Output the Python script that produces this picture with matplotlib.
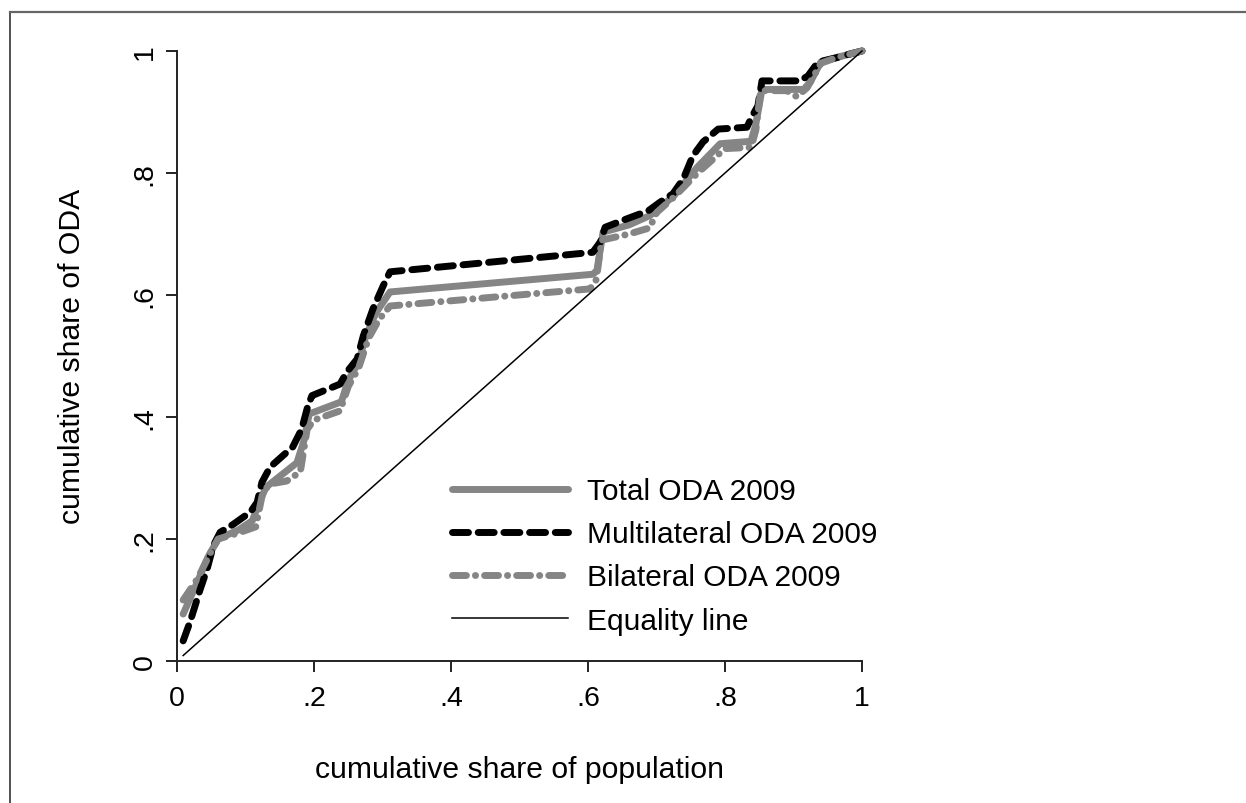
import matplotlib
matplotlib.use("Agg")
import matplotlib.pyplot as plt
from matplotlib.lines import Line2D

plt.rcParams['font.family'] = ['Liberation Sans', 'DejaVu Sans']

# ---- data ----
multi_x = [0.009, 0.019, 0.034, 0.044, 0.053, 0.063, 0.082, 0.107, 0.117, 0.124, 0.136,
           0.169, 0.182, 0.191, 0.197, 0.238, 0.248, 0.263, 0.272, 0.286, 0.301, 0.311,
           0.607, 0.618, 0.625, 0.657, 0.688, 0.705, 0.724, 0.739, 0.753, 0.768, 0.790,
           0.832, 0.839, 0.848, 0.854, 0.909, 0.921, 0.936, 0.963, 0.982, 1.000]
multi_y = [0.033, 0.064, 0.118, 0.151, 0.189, 0.211, 0.224, 0.244, 0.260, 0.293, 0.318,
           0.351, 0.380, 0.418, 0.435, 0.454, 0.474, 0.495, 0.533, 0.577, 0.615, 0.638,
           0.670, 0.687, 0.711, 0.725, 0.738, 0.752, 0.766, 0.790, 0.828, 0.851, 0.872,
           0.875, 0.892, 0.910, 0.951, 0.951, 0.959, 0.982, 0.989, 0.995, 1.000]

total_x = [0.009, 0.030, 0.045, 0.060, 0.090, 0.110, 0.120, 0.130, 0.175, 0.185, 0.193,
           0.240, 0.250, 0.265, 0.275, 0.290, 0.311, 0.607, 0.613, 0.622, 0.660, 0.690,
           0.725, 0.760, 0.793, 0.838, 0.845, 0.854, 0.915, 0.925, 0.940, 0.965, 1.000]
total_y = [0.077, 0.130, 0.170, 0.200, 0.215, 0.230, 0.260, 0.285, 0.325, 0.360, 0.405,
           0.425, 0.460, 0.490, 0.530, 0.570, 0.605, 0.634, 0.640, 0.703, 0.715, 0.730,
           0.762, 0.810, 0.848, 0.852, 0.880, 0.937, 0.937, 0.950, 0.982, 0.990, 1.000]

bil_x = [0.009, 0.030, 0.050, 0.060, 0.090, 0.115, 0.125, 0.135, 0.160, 0.180, 0.190,
         0.200, 0.238, 0.250, 0.265, 0.280, 0.295, 0.311, 0.603, 0.612, 0.620, 0.660,
         0.690, 0.700, 0.725, 0.760, 0.800, 0.838, 0.845, 0.852, 0.890, 0.905, 0.920,
         0.940, 0.965, 1.000]
bil_y = [0.100, 0.135, 0.180, 0.200, 0.210, 0.220, 0.275, 0.290, 0.295, 0.310, 0.380,
         0.395, 0.410, 0.450, 0.480, 0.530, 0.560, 0.582, 0.610, 0.625, 0.690, 0.700,
         0.710, 0.735, 0.760, 0.800, 0.840, 0.842, 0.870, 0.935, 0.935, 0.925, 0.940,
         0.980, 0.990, 1.000]

eq_x = [0.009, 1.0]
eq_y = [0.009, 1.0]

labels = ["Total ODA 2009", "Multilateral ODA 2009", "Bilateral ODA 2009", "Equality line"]
xticks = [0, 0.2, 0.4, 0.6, 0.8, 1.0]
xticklabels = ["0", ".2", ".4", ".6", ".8", "1"]
yticks = [0, 0.2, 0.4, 0.6, 0.8, 1.0]
yticklabels = ["0", ".2", ".4", ".6", ".8", "1"]
xlabel = "cumulative share of population"
ylabel = "cumulative share of ODA"

GRAY = "#858585"
W, H = 1246, 804

fig = plt.figure(figsize=(W / 100, H / 100), dpi=100)
ax = fig.add_axes([177 / W, 1 - 662 / H, (862 - 177) / W, (662 - 52) / H])

lw = 5.0
ax.plot(total_x, total_y, color=GRAY, lw=lw, solid_capstyle='round',
        solid_joinstyle='round', clip_on=False, label=labels[0])
ax.plot(multi_x, multi_y, color="black", lw=lw, dashes=(2.3, 1.4),
        dash_capstyle='round', solid_joinstyle='round', clip_on=False, label=labels[1])
ax.plot(bil_x, bil_y, color=GRAY, lw=lw, dashes=(2.0, 1.3, 0.02, 1.3),
        dash_capstyle='round', solid_joinstyle='round', clip_on=False, label=labels[2])
ax.plot(eq_x, eq_y, color="black", lw=1.1, clip_on=False, label=labels[3])

ax.set_xlim(0, 1)
ax.set_ylim(0, 1)
ax.margins(0)
for s in ["top", "right"]:
    ax.spines[s].set_visible(False)
for s in ["left", "bottom"]:
    ax.spines[s].set_linewidth(1.4)
    ax.spines[s].set_color("#222222")

ax.set_xticks(xticks)
ax.set_xticklabels(xticklabels, fontsize=20.5)
ax.set_yticks(yticks)
ax.set_yticklabels(yticklabels, fontsize=20.5, rotation=90, va='center')
ax.tick_params(axis='both', direction='out', length=8, width=1.4, color="#222222")
ax.tick_params(axis='x', pad=9)
ax.tick_params(axis='y', pad=6)

fig.text(519.5 / W, 1 - 778 / H, xlabel, fontsize=21.7, ha='center', va='baseline')
fig.text(72 / W, 1 - 356 / H, ylabel, fontsize=21.7, ha='center', va='center', rotation=90)

leg = ax.legend(loc='upper left', bbox_to_anchor=((452 - 177) / 685, (662 - 478) / 610),
                frameon=False, fontsize=21.5, borderpad=0, borderaxespad=0,
                handlelength=3.88, handletextpad=0.64, labelspacing=0.51)

# outer frame of the figure box
fig.add_artist(Line2D([9.5 / W, 9.5 / W], [0, 1 - 13 / H], transform=fig.transFigure,
                      color="#333333", lw=1.2))
fig.add_artist(Line2D([9.5 / W, 1], [1 - 13 / H, 1 - 13 / H], transform=fig.transFigure,
                      color="#666666", lw=1.6))

fig.savefig("out.png", dpi=100)
